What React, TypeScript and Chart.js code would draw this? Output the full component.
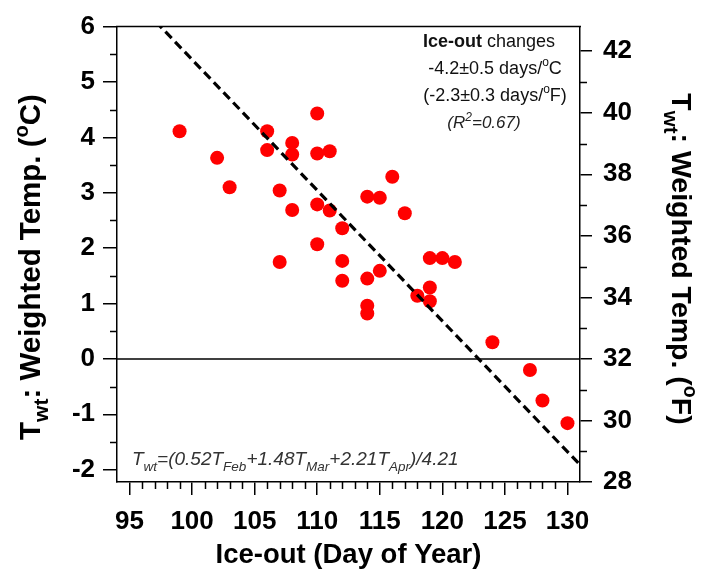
import { useEffect, useRef } from 'react';
import { Chart, registerables } from 'chart.js';

Chart.register(...registerables);

// ---- data ----
const iceOutDay = [
  99, 102, 103, 106, 106, 107, 107, 108, 108, 108,
  110, 110, 110, 110, 111, 111, 112, 112, 112,
  114, 114, 114, 114, 115, 115, 116, 117, 118,
  119, 119, 119, 120, 121, 124, 127, 128, 130,
];
const weightedTempC = [
  4.11, 3.63, 3.10, 4.11, 3.77, 3.04, 1.75, 3.90, 3.69, 2.69,
  4.43, 3.71, 2.79, 2.07, 3.75, 2.68, 2.36, 1.77, 1.41,
  2.93, 1.45, 0.96, 0.82, 2.91, 1.59, 3.29, 2.63, 1.14,
  1.82, 1.29, 1.04, 1.82, 1.75, 0.30, -0.20, -0.75, -1.16,
];

// regression line: T = slope * (day - zeroDay)
const fitSlope = -0.236;
const fitZeroDay = 122.9;

const xTickValues = [95, 100, 105, 110, 115, 120, 125, 130];
const yTickValuesC = [-2, -1, 0, 1, 2, 3, 4, 5, 6];
const yTickValuesF = [28, 30, 32, 34, 36, 38, 40, 42];
const xMin = 94;
const xMax = 131;
const yMaxC = 6;
const yMinF = 28;
const toC = (f: number) => (f - 32) * 5 / 9;
const toF = (c: number) => c * 9 / 5 + 32;

const FAMILY = '"Liberation Sans", Arial, Helvetica, sans-serif';

type Run = { t: string; s: number; dy?: number; b?: boolean; i?: boolean };

function drawRuns(ctx: CanvasRenderingContext2D, runs: Run[], x: number, y: number, align: 'left' | 'center') {
  const fontOf = (r: Run) => `${r.i ? 'italic ' : ''}${r.b ? 'bold ' : ''}${r.s}px ${FAMILY}`;
  let total = 0;
  for (const r of runs) {
    ctx.font = fontOf(r);
    total += ctx.measureText(r.t).width;
  }
  let cx = align === 'center' ? x - total / 2 : x;
  ctx.textAlign = 'left';
  ctx.textBaseline = 'alphabetic';
  for (const r of runs) {
    ctx.font = fontOf(r);
    ctx.fillText(r.t, cx, y + (r.dy || 0));
    cx += ctx.measureText(r.t).width;
  }
}

const decorPlugin = {
  id: 'decor',
  afterDraw(chart: any) {
    const { ctx, chartArea: ca, scales } = chart;
    const sx = scales.x, sy = scales.y, sy2 = scales.y2;
    ctx.save();
    ctx.strokeStyle = '#000';
    ctx.lineWidth = 1.5;
    ctx.beginPath();
    ctx.moveTo(ca.left - 1, ca.top);
    ctx.lineTo(ca.right + 1, ca.top);
    ctx.stroke();
    // minor ticks
    ctx.beginPath();
    for (let v = -1.5; v < 6; v += 1) {
      const p = Math.round(sy.getPixelForValue(v)) + 0.5;
      ctx.moveTo(ca.left - 7, p);
      ctx.lineTo(ca.left, p);
    }
    for (let v = 29; v < 43; v += 2) {
      const p = Math.round(sy2.getPixelForValue(v)) + 0.5;
      ctx.moveTo(ca.right, p);
      ctx.lineTo(ca.right + 7, p);
    }
    for (let v = 96; v < 131; v += 1) {
      if (v % 5 === 0) continue;
      const p = Math.round(sx.getPixelForValue(v)) + 0.5;
      ctx.moveTo(p, ca.bottom);
      ctx.lineTo(p, ca.bottom + 7);
    }
    ctx.stroke();

    ctx.fillStyle = '#000';
    // x title
    drawRuns(ctx, [{ t: 'Ice-out (Day of Year)', s: 27.5, b: true }], (ca.left + ca.right) / 2, 563, 'center');

    // left title
    ctx.save();
    ctx.translate(40, 267);
    ctx.rotate(-Math.PI / 2);
    drawRuns(ctx, [
      { t: 'T', s: 29.5, b: true },
      { t: 'wt', s: 21, b: true, dy: 8 },
      { t: ': Weighted Temp. (', s: 29.5, b: true },
      { t: 'o', s: 20, b: true, dy: -12 },
      { t: 'C)', s: 29.5, b: true },
    ], 0, 0, 'center');
    ctx.restore();

    // right title
    ctx.save();
    ctx.translate(672, 259);
    ctx.rotate(Math.PI / 2);
    drawRuns(ctx, [
      { t: 'T', s: 28.5, b: true },
      { t: 'wt', s: 20.5, b: true, dy: 8 },
      { t: ': Weighted Temp. (', s: 28.5, b: true },
      { t: 'o', s: 19.5, b: true, dy: -12 },
      { t: 'F)', s: 28.5, b: true },
    ], 0, 0, 'center');
    ctx.restore();

    // annotation
    ctx.fillStyle = '#111';
    drawRuns(ctx, [
      { t: 'Ice-out', s: 18, b: true },
      { t: ' changes', s: 18 },
    ], 489, 47, 'center');
    drawRuns(ctx, [
      { t: '-4.2\u00B10.5 days/', s: 18 },
      { t: 'o', s: 12, dy: -8 },
      { t: 'C', s: 18 },
    ], 495, 74, 'center');
    drawRuns(ctx, [
      { t: '(-2.3\u00B10.3 days/', s: 18 },
      { t: 'o', s: 12, dy: -8 },
      { t: 'F)', s: 18 },
    ], 495, 101, 'center');
    ctx.fillStyle = '#222';
    drawRuns(ctx, [
      { t: '(R', s: 17, i: true },
      { t: '2', s: 12, i: true, dy: -7 },
      { t: '=0.67)', s: 17, i: true },
    ], 484, 128, 'center');

    // formula
    ctx.fillStyle = '#333';
    drawRuns(ctx, [
      { t: 'T', s: 19, i: true },
      { t: 'wt', s: 13.5, i: true, dy: 6 },
      { t: '=(0.52T', s: 19, i: true },
      { t: 'Feb', s: 13.5, i: true, dy: 6 },
      { t: '+1.48T', s: 19, i: true },
      { t: 'Mar', s: 13.5, i: true, dy: 6 },
      { t: '+2.21T', s: 19, i: true },
      { t: 'Apr', s: 13.5, i: true, dy: 6 },
      { t: ')/4.21', s: 19, i: true },
    ], 132, 465, 'left');
    ctx.restore();
  },
};

export default function App() {
  const ref = useRef<HTMLCanvasElement | null>(null);
  useEffect(() => {
    if (!ref.current) return;
    const points = iceOutDay.map((d, i) => ({ x: d, y: weightedTempC[i] }));
    const fitLine = [xMin, xMax].map((d) => ({ x: d, y: fitSlope * (d - fitZeroDay) }));
    const zeroLine = [xMin, xMax].map((d) => ({ x: d, y: 0 }));
    const tickFont = { family: FAMILY, size: 26, weight: 'bold' as const };
    const axisGrid = (len: number) => ({
      display: true,
      drawOnChartArea: false,
      drawTicks: true,
      tickLength: len,
      color: '#000',
      lineWidth: 1.5,
    });
    const chart = new Chart(ref.current, {
      type: 'scatter',
      data: {
        datasets: [
          {
            type: 'line',
            data: fitLine,
            borderColor: '#000',
            borderWidth: 3.2,
            borderDash: [9, 5],
            pointRadius: 0,
            fill: false,
            order: 0,
          } as any,
          {
            data: points,
            backgroundColor: '#ff0000',
            borderColor: '#ff0000',
            borderWidth: 0,
            pointRadius: 7,
            order: 1,
          },
          {
            type: 'line',
            data: zeroLine,
            borderColor: '#000',
            borderWidth: 1.5,
            pointRadius: 0,
            fill: false,
            order: 2,
          } as any,
        ],
      },
      options: {
        responsive: false,
        animation: false,
        devicePixelRatio: 1,
        layout: { padding: { top: 21, left: 0, right: 0, bottom: 0 } },
        plugins: { legend: { display: false }, tooltip: { enabled: false } },
        scales: {
          x: {
            type: 'linear',
            position: 'bottom',
            min: xMin,
            max: xMax,
            grid: axisGrid(13),
            border: { display: true, color: '#000', width: 1.5 },
            ticks: { font: tickFont, color: '#000', padding: 11, maxRotation: 0, autoSkip: false },
            afterBuildTicks: (s: any) => { s.ticks = xTickValues.map((v) => ({ value: v })); },
            afterFit: (s: any) => { s.height = 89; },
          },
          y: {
            type: 'linear',
            position: 'left',
            min: toC(yMinF),
            max: yMaxC,
            grid: axisGrid(14),
            border: { display: true, color: '#000', width: 1.5 },
            ticks: { font: tickFont, color: '#000', padding: 8, autoSkip: false },
            afterBuildTicks: (s: any) => { s.ticks = yTickValuesC.map((v) => ({ value: v })); },
            afterFit: (s: any) => { s.width = 117; },
          },
          y2: {
            type: 'linear',
            position: 'right',
            min: yMinF,
            max: toF(yMaxC),
            grid: axisGrid(12),
            border: { display: true, color: '#000', width: 1.5 },
            ticks: { font: tickFont, color: '#000', padding: 11, autoSkip: false },
            afterBuildTicks: (s: any) => { s.ticks = yTickValuesF.map((v) => ({ value: v })); },
            afterFit: (s: any) => { s.width = 132; },
          },
        },
      },
      plugins: [decorPlugin],
    });
    return () => chart.destroy();
  }, []);
  return (
    <div style={{ position: 'fixed', left: 0, top: 0, width: 712, height: 571, background: '#fff' }}>
      <canvas ref={ref} width={712} height={571} />
    </div>
  );
}
